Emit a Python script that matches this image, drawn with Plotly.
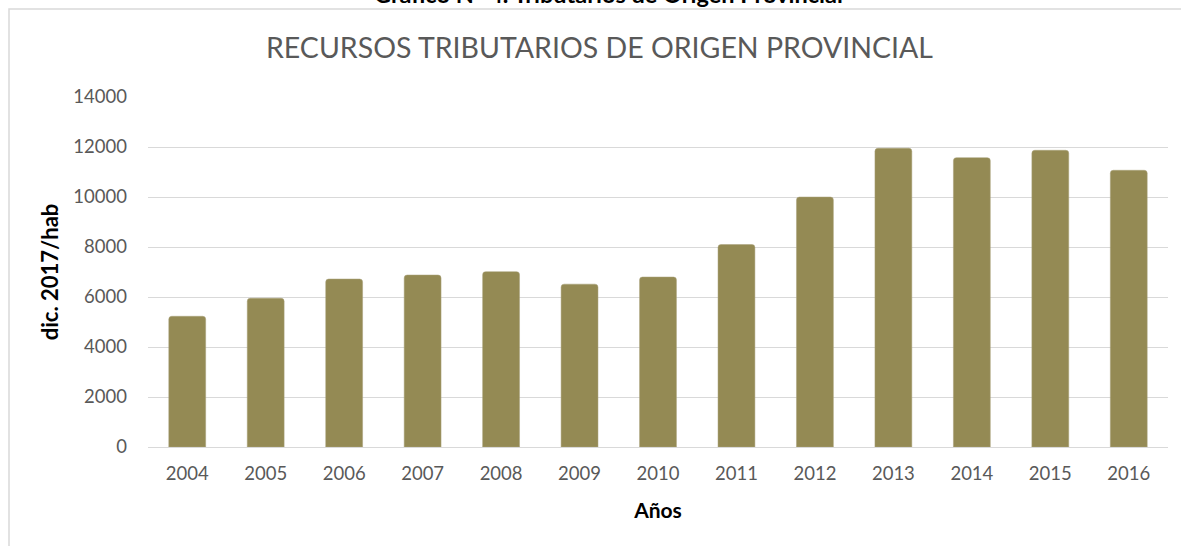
import plotly.graph_objects as go

years = ["2004", "2005", "2006", "2007", "2008", "2009", "2010",
         "2011", "2012", "2013", "2014", "2015", "2016"]
values = [5230, 5950, 6720, 6880, 7015, 6515, 6800,
          8100, 10000, 11950, 11575, 11870, 11070]
y_ticks = [0, 2000, 4000, 6000, 8000, 10000, 12000, 14000]

title_text = "RECURSOS TRIBUTARIOS DE ORIGEN PROVINCIAL"
top_caption = "Gráfico N° 4. Tributarios de Origen Provincial"
x_title = "Años"
y_title = "dic. 2017/hab"

W, H = 1181, 546
L, R, T, B = 148, 13, 97, 99
pw, ph = W - L - R, H - T - B

def px_x(x):
    return (x - L) / pw

def px_y(y):
    return (H - B - y) / ph

fig = go.Figure(go.Bar(
    x=years, y=values,
    marker=dict(color="#948A54", line=dict(color="#A9A07A", width=0.5), cornerradius=3),
    width=0.47,
))

fig.update_layout(
    width=W, height=H,
    margin=dict(l=L, r=R, t=T, b=B, pad=0),
    paper_bgcolor="white", plot_bgcolor="white",
    font=dict(family="Lato, 'Open Sans', sans-serif", color="#595959"),
    showlegend=False,
    xaxis=dict(
        type="category", showgrid=False, zeroline=False, showline=False,
        tickfont=dict(size=18.5, color="#595959"), ticks="",
        ticklabelstandoff=13,
        title=dict(text="<b>" + x_title + "</b>", font=dict(size=21, color="#000000"), standoff=20),
    ),
    yaxis=dict(
        range=[0, 14000], tickvals=y_ticks, ticktext=[str(v) for v in y_ticks],
        showgrid=True, gridcolor="#D9D9D9", gridwidth=1,
        zeroline=True, zerolinecolor="#D9D9D9", zerolinewidth=1,
        showline=False, ticks="",
        tickfont=dict(size=18.5, color="#595959"),
        ticklabelstandoff=20,
        title=dict(text="<b>" + y_title + "</b>", font=dict(size=22, color="#000000"), standoff=8),
    ),
    shapes=[dict(type="rect", xref="paper", yref="paper",
                 x0=px_x(9), x1=px_x(W + 5), y0=px_y(H + 5), y1=px_y(9),
                 line=dict(color="#D9D9D9", width=1.5), fillcolor="rgba(0,0,0,0)", layer="below")],
    annotations=[
        dict(text=title_text, xref="paper", yref="paper", x=px_x(599), y=px_y(47),
             xanchor="center", yanchor="middle", showarrow=False,
             font=dict(size=28.5, color="#595959")),
        dict(text="<b>" + top_caption + "</b>", xref="paper", yref="paper", x=px_x(608), y=px_y(-5.5),
             xanchor="center", yanchor="middle", showarrow=False,
             font=dict(size=23.5, color="#000000")),
    ],
)

fig.write_html("out.html", config={"displayModeBar": False},
               post_script="document.body.style.margin='0';document.body.style.overflow='hidden';")
